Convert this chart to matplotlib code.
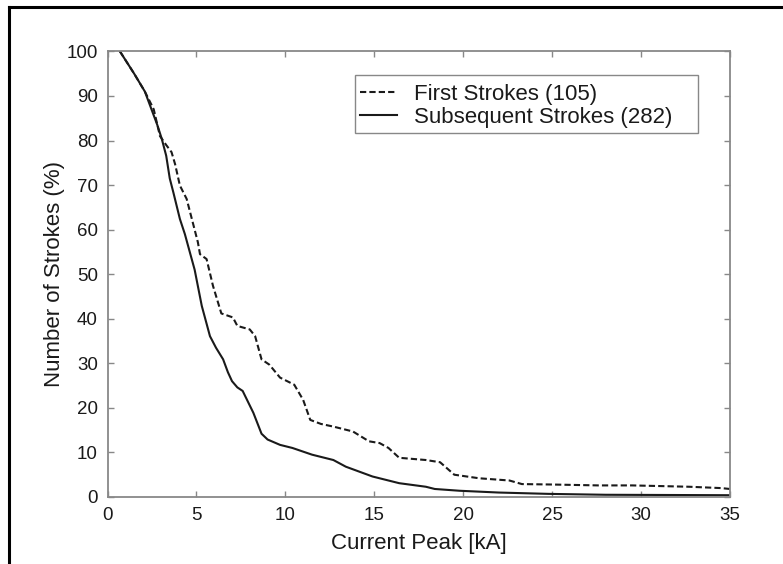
import matplotlib
matplotlib.use('Agg')
import matplotlib.pyplot as plt
from matplotlib.lines import Line2D
from matplotlib.patches import Rectangle

plt.rcParams['font.family'] = ['Liberation Sans', 'DejaVu Sans']

# first strokes (dashed)
first_x = [0.7, 1.5, 2.1, 2.6, 2.95, 3.3, 3.6, 3.8, 4.07, 4.45, 5.08, 5.2, 5.57, 5.93,
           6.4, 7.05, 7.3, 8.0, 8.3, 8.66, 9.1, 9.7, 10.5, 11.0, 11.4, 12.0, 12.7,
           13.8, 14.7, 15.3, 15.8, 16.4, 17.9, 18.7, 19.5, 20.9, 22.6, 23.3, 25.0,
           27.6, 29.5, 32.7, 34.5, 35.0]
first_y = [100, 95, 91, 87, 81, 79, 77.4, 74.7, 69.9, 66.9, 57.2, 54.5, 53.4, 47.4,
           41.2, 40.3, 38.4, 37.6, 36.1, 30.9, 29.7, 26.8, 25.2, 21.8, 17.3, 16.4, 15.8,
           14.7, 12.5, 12.1, 11.0, 8.8, 8.3, 7.8, 5.0, 4.2, 3.7, 2.9, 2.8,
           2.6, 2.6, 2.3, 2.0, 1.8]

# subsequent strokes (solid)
subs_x = [0.7, 1.5, 2.1, 2.8, 3.05, 3.3, 3.5, 3.7, 4.07, 4.35, 4.9, 5.3, 5.76, 6.1,
          6.5, 6.77, 7.0, 7.3, 7.6, 8.2, 8.66, 9.0, 9.7, 10.4, 11.5, 12.7, 13.4, 14.9,
          16.4, 17.9, 18.4, 19.8, 22.0, 24.8, 28.0, 35.0]
subs_y = [100, 95, 91, 83.5, 80.4, 76.6, 71.5, 68.4, 62.4, 59, 51, 42.9, 36.1, 33.5,
          30.9, 28.0, 26.0, 24.6, 23.8, 18.9, 14.2, 12.9, 11.7, 11.0, 9.5, 8.3, 6.8, 4.6,
          3.1, 2.3, 1.8, 1.4, 1.0, 0.7, 0.5, 0.4]

x_ticks = [0, 5, 10, 15, 20, 25, 30, 35]
y_ticks = [0, 10, 20, 30, 40, 50, 60, 70, 80, 90, 100]

fig = plt.figure(figsize=(7.83, 5.64), dpi=100)
ax = fig.add_axes([0.1373, 0.1188, 0.795, 0.79])

ax.plot(first_x, first_y, color='#1a1a1a', lw=1.5, linestyle=(0, (3, 1.5)),
        label='First Strokes (105)')
ax.plot(subs_x, subs_y, color='#1a1a1a', lw=1.5, label='Subsequent Strokes (282)')

ax.set_xlim(0, 35)
ax.set_ylim(0, 100)
ax.set_xticks(x_ticks)
ax.set_yticks(y_ticks)
ax.tick_params(direction='in', length=4, width=1, color='#888888',
               top=True, right=True, labelsize=13.5, pad=7, labelcolor='#1a1a1a')
for s in ax.spines.values():
    s.set_color('#888888')
    s.set_linewidth(1.3)

ax.set_xlabel('Current Peak [kA]', fontsize=16, labelpad=7, color='#1a1a1a')
ax.set_ylabel('Number of Strokes (%)', fontsize=16, labelpad=1, color='#1a1a1a')

# legend without its own frame, box drawn separately to match the reference padding
leg = ax.legend(loc='upper left', bbox_to_anchor=(0.405, 0.927), fontsize=16,
                frameon=False, handlelength=1.7, handletextpad=0.75,
                borderpad=0.0, labelspacing=0.1, borderaxespad=0)
for t in leg.get_texts():
    t.set_color('#1a1a1a')
ax.add_patch(Rectangle((0.3976, 0.818), 0.551, 0.130, transform=ax.transAxes,
                       facecolor='none', edgecolor='#888888', lw=1.0, zorder=5))

# frame lines of the scanned figure (top and left only)
fig.add_artist(Line2D([9 / 783, 1], [1 - 7 / 564, 1 - 7 / 564], color='black', lw=2.2,
                      transform=fig.transFigure))
fig.add_artist(Line2D([9 / 783, 9 / 783], [0, 1 - 7 / 564], color='black', lw=2.2,
                      transform=fig.transFigure))

fig.savefig('out.png', dpi=100)
